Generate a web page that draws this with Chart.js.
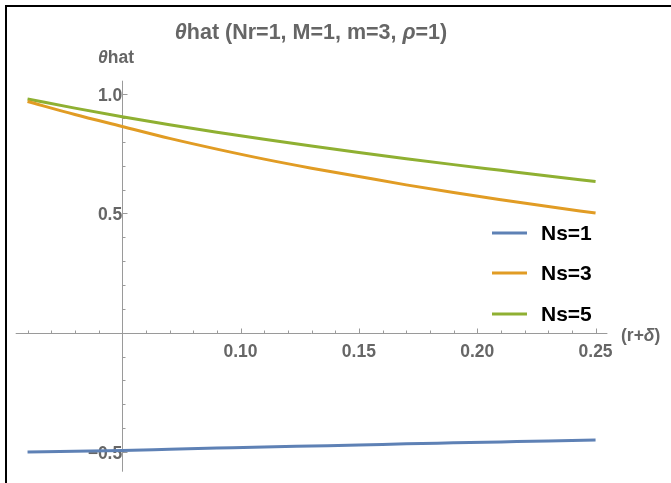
<!DOCTYPE html>
<html>
<head>
<meta charset="utf-8">
<script src="https://cdn.jsdelivr.net/npm/chart.js@4.4.1/dist/chart.umd.min.js"></script>
<style>
  html, body { margin: 0; padding: 0; background: #ffffff; }
  #wrap { position: relative; width: 671px; height: 483px; }
  canvas { display: block; }
</style>
</head>
<body>
<div id="wrap"><canvas id="c" width="671" height="483"></canvas></div>
<script>
// sample points along (r+δ)
const rDelta = [0.01, 0.03, 0.05, 0.07, 0.09, 0.11, 0.13, 0.15, 0.17, 0.19, 0.21, 0.23, 0.25];

// θhat for each number of sources
const thetaNs1 = [-0.500, -0.497, -0.494, -0.489, -0.484, -0.479, -0.475, -0.471, -0.466, -0.462, -0.458, -0.454, -0.450];
const thetaNs3 = [0.970, 0.915, 0.865, 0.815, 0.770, 0.728, 0.690, 0.655, 0.620, 0.588, 0.558, 0.529, 0.502];
const thetaNs5 = [0.980, 0.942, 0.906, 0.872, 0.841, 0.811, 0.783, 0.756, 0.730, 0.705, 0.681, 0.657, 0.634];

const seriesLabels = ['Ns=1', 'Ns=3', 'Ns=5'];
const seriesColors = ['#5E81B5', '#E19C24', '#8FB032'];

// labelled ticks
const xTickValues = [0.10, 0.15, 0.20, 0.25];
const yTickValues = [-0.5, 0.5, 1.0];

const AXIS_GRAY = '#9a9a9a';
const LABEL_GRAY = '#666666';
const FONT = '"Liberation Sans", Arial, sans-serif';

function toPoints(ys) {
  return rDelta.map((x, i) => ({ x: x, y: ys[i] }));
}

// keep the chart area exactly where the layout padding puts it
function noScalePadding(s) {
  s.paddingTop = 0; s.paddingBottom = 0; s.paddingLeft = 0; s.paddingRight = 0;
}

// axes through the origin (0.05, 0) with minor/major ticks
const axesPlugin = {
  id: 'crossAxes',
  beforeDatasetsDraw(chart) {
    const ctx = chart.ctx;
    const xs = chart.scales.x, ys = chart.scales.y;
    const y0 = Math.round(ys.getPixelForValue(0)) + 0.5;
    const x0 = Math.round(xs.getPixelForValue(0.05)) + 0.5;
    ctx.save();
    ctx.strokeStyle = AXIS_GRAY;
    ctx.lineWidth = 1;
    ctx.beginPath();
    ctx.moveTo(chart.chartArea.left, y0);
    ctx.lineTo(chart.chartArea.right, y0);
    ctx.moveTo(x0, chart.chartArea.top);
    ctx.lineTo(x0, chart.chartArea.bottom);
    // x ticks every 0.01, longer on labelled ones
    for (let k = 1; k <= 25; k++) {
      const v = k / 100;
      if (k === 5) continue;
      const px = Math.round(xs.getPixelForValue(v)) + 0.5;
      const major = xTickValues.some(t => Math.abs(t - v) < 1e-9);
      ctx.moveTo(px, y0);
      ctx.lineTo(px, y0 - (major ? 5 : 3));
    }
    // y ticks every 0.1
    for (let k = -5; k <= 10; k++) {
      if (k === 0) continue;
      const v = k / 10;
      const py = Math.round(ys.getPixelForValue(v)) + 0.5;
      const major = yTickValues.some(t => Math.abs(t - v) < 1e-9);
      ctx.moveTo(x0, py);
      ctx.lineTo(x0 + (major ? 5 : 3), py);
    }
    ctx.stroke();
    ctx.restore();
  }
};

// title, axis names, legend and frame
const decorPlugin = {
  id: 'decor',
  afterDraw(chart) {
    const ctx = chart.ctx;
    const xs = chart.scales.x, ys = chart.scales.y;
    ctx.save();

    // frame lines
    ctx.strokeStyle = '#000000';
    ctx.lineWidth = 2;
    ctx.beginPath();
    ctx.moveTo(6, 483);
    ctx.lineTo(6, 6);
    ctx.lineTo(671, 6);
    ctx.stroke();

    // mixed italic / upright text runs
    function drawRuns(runs, cx, cy, size, color, align) {
      let total = 0;
      runs.forEach(r => {
        ctx.font = (r[1] ? 'italic ' : '') + 'bold ' + size + 'px ' + FONT;
        r.w = ctx.measureText(r[0]).width;
        total += r.w;
      });
      let x = align === 'left' ? cx : cx - total / 2;
      ctx.fillStyle = color;
      ctx.textBaseline = 'middle';
      ctx.textAlign = 'left';
      runs.forEach(r => {
        ctx.font = (r[1] ? 'italic ' : '') + 'bold ' + size + 'px ' + FONT;
        ctx.fillText(r[0], x, cy);
        x += r.w;
      });
    }

    drawRuns([['θ', true], ['hat (Nr=1, M=1, m=3, ', false], ['ρ', true], ['=1)', false]],
             311, 33, 21.5, LABEL_GRAY, 'center');
    drawRuns([['θ', true], ['hat', false]], 116, 58, 17.5, LABEL_GRAY, 'center');
    drawRuns([['(r+', false], ['δ', true], [')', false]], 621, ys.getPixelForValue(0) + 3, 17.5, LABEL_GRAY, 'left');

    // legend
    const legendY = [233, 273, 314];
    chart.data.datasets.forEach((ds, i) => {
      ctx.strokeStyle = ds.borderColor;
      ctx.lineWidth = 3;
      ctx.beginPath();
      ctx.moveTo(492, legendY[i]);
      ctx.lineTo(527, legendY[i]);
      ctx.stroke();
      ctx.fillStyle = '#000000';
      ctx.font = 'bold 21px ' + FONT;
      ctx.textAlign = 'left';
      ctx.textBaseline = 'middle';
      ctx.fillText(ds.label, 541, legendY[i] + 1);
    });
    ctx.restore();
  }
};

new Chart(document.getElementById('c'), {
  type: 'line',
  data: {
    datasets: [
      { label: seriesLabels[0], data: toPoints(thetaNs1), borderColor: seriesColors[0] },
      { label: seriesLabels[1], data: toPoints(thetaNs3), borderColor: seriesColors[1] },
      { label: seriesLabels[2], data: toPoints(thetaNs5), borderColor: seriesColors[2] }
    ]
  },
  options: {
    responsive: false,
    animation: false,
    devicePixelRatio: 1,
    layout: { padding: { left: 15.7, right: 63.6, top: 80.7, bottom: 11.3 } },
    elements: {
      line: { borderWidth: 3, cubicInterpolationMode: 'monotone', fill: false },
      point: { radius: 0, hoverRadius: 0 }
    },
    plugins: {
      legend: { display: false },
      title: { display: false },
      tooltip: { enabled: false }
    },
    scales: {
      x: {
        type: 'linear',
        min: 0.005,
        max: 0.255,
        position: { y: 0 },
        afterBuildTicks: s => { s.ticks = xTickValues.map(v => ({ value: v })); },
        afterFit: noScalePadding,
        ticks: {
          padding: 9,
          color: LABEL_GRAY,
          font: { family: FONT, size: 17.5, weight: 'bold' },
          maxRotation: 0,
          callback: v => v.toFixed(2)
        },
        grid: { display: true, drawOnChartArea: false, drawTicks: false },
        border: { display: false }
      },
      y: {
        type: 'linear',
        min: -0.583,
        max: 1.057,
        position: { x: 0.05 },
        afterBuildTicks: s => { s.ticks = yTickValues.map(v => ({ value: v })); },
        afterFit: noScalePadding,
        ticks: {
          padding: 7,
          labelOffset: 2,
          color: LABEL_GRAY,
          font: { family: FONT, size: 17.5, weight: 'bold' },
          callback: v => (v < 0 ? '\u2212' : '') + Math.abs(v).toFixed(1)
        },
        grid: { display: true, drawOnChartArea: false, drawTicks: false },
        border: { display: false }
      }
    }
  },
  plugins: [axesPlugin, decorPlugin]
});
</script>
</body>
</html>
